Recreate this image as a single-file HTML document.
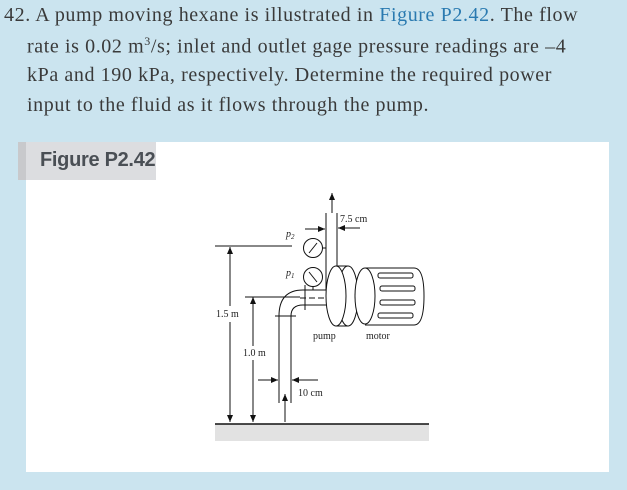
<!DOCTYPE html>
<html><head><style>
body{margin:0;width:627px;height:490px;background:#cbe4ef;overflow:hidden;position:relative;font-family:"Liberation Serif",serif}
.t{position:absolute;font-size:20px;color:#3a3a3a;white-space:nowrap;letter-spacing:0.6px}
.panel{position:absolute;left:26px;top:142px;width:583px;height:330px;background:#fff}
.fig{position:absolute;left:18px;top:142px;width:138px;height:38px;background:#dcdde0;border-left:8px solid #c8c9cc;box-sizing:border-box;font:bold 20px "Liberation Sans",sans-serif;color:#4a4f55;padding:7px 0 0 14px;letter-spacing:-0.3px}
</style></head><body>
<div class="t" style="left:4px;top:4px">42. A pump moving hexane is illustrated in <span style="color:#2a7ab0">Figure P2.42</span>. The flow</div>
<div class="t" style="left:27px;top:34px">rate is 0.02 m<sup style="font-size:12px">3</sup>/s; inlet and outlet gage pressure readings are –4</div>
<div class="t" style="left:27px;top:64px">kPa and 190 kPa, respectively. Determine the required power</div>
<div class="t" style="left:27px;top:94px">input to the fluid as it flows through the pump.</div>
<div class="panel"></div>
<div class="fig">Figure P2.42</div>
<svg style="position:absolute;left:0;top:0" width="627" height="490" font-family="Liberation Serif,serif" font-size="10" fill="#222">
<defs><marker id="a" markerWidth="8" markerHeight="8" refX="7" refY="3" orient="auto"><path d="M0,0 L7,3 L0,6z" fill="#111"/></marker></defs>
<g stroke="#111" stroke-width="1" fill="none">
<rect x="215" y="424" width="214" height="17" fill="#e2e2e2" stroke="none"/>
<line x1="215" y1="424" x2="429" y2="424" stroke-width="1.5"/>
<line x1="332" y1="213" x2="332" y2="193" marker-end="url(#a)"/>
<line x1="326" y1="213" x2="326" y2="290"/>
<line x1="337" y1="213" x2="337" y2="268"/>
<line x1="305" y1="229" x2="325" y2="229" marker-end="url(#a)"/>
<line x1="360" y1="228" x2="338" y2="228" marker-end="url(#a)"/>
<circle cx="313" cy="248" r="9.5"/><line x1="309" y1="253" x2="317" y2="243"/><line x1="322" y1="248" x2="326" y2="248"/>
<circle cx="313" cy="277" r="9.5"/><line x1="309" y1="272" x2="317" y2="282"/><line x1="313" y1="286" x2="313" y2="290"/>
<line x1="215" y1="246" x2="292" y2="246"/>
<path d="M279,316 L279,403 M291,316 L291,403"/>
<path d="M279,316 Q279,290 303,290 L336,290 M291,316 Q291,305 303,305 L336,305"/>
<line x1="300" y1="298" x2="336" y2="298" stroke-dasharray="6,3"/>
<line x1="275" y1="316" x2="296" y2="316"/><line x1="305" y1="285" x2="305" y2="310"/>
<line x1="245" y1="297" x2="300" y2="297"/>
<line x1="253" y1="346" x2="253" y2="297" marker-end="url(#a)"/><line x1="253" y1="360" x2="253" y2="422" marker-end="url(#a)"/>
<line x1="230" y1="306" x2="230" y2="247" marker-end="url(#a)"/><line x1="230" y1="322" x2="230" y2="422" marker-end="url(#a)"/>
<line x1="258" y1="380" x2="278" y2="380" marker-end="url(#a)"/><line x1="318" y1="380" x2="292" y2="380" marker-end="url(#a)"/>
<line x1="285" y1="422" x2="285" y2="394" marker-end="url(#a)"/>
<path d="M336,266 L348,266 M336,326 L348,326"/>
<ellipse cx="348" cy="296" rx="10" ry="30" fill="#fff"/>
<ellipse cx="336" cy="296" rx="10" ry="30" fill="#fff"/>
<rect x="355" y="292" width="14" height="8" rx="3" fill="#fff"/>
<path d="M365,268 L414,268 Q424,268 424,296 Q424,325 414,325 L365,325" fill="#fff"/>
<ellipse cx="365" cy="296" rx="10" ry="28" fill="#fff"/>
<rect x="378" y="273" width="35" height="5" rx="2"/><rect x="380" y="286" width="35" height="5" rx="2"/><rect x="380" y="300" width="35" height="5" rx="2"/><rect x="378" y="313" width="35" height="5" rx="2"/>
</g>
<text x="340" y="222">7.5 cm</text>
<text x="286" y="237" font-style="italic">p<tspan font-size="7" dy="2">2</tspan></text>
<text x="286" y="276" font-style="italic">p<tspan font-size="7" dy="2">1</tspan></text>
<text x="216" y="317">1.5 m</text>
<text x="243" y="356">1.0 m</text>
<text x="313" y="339">pump</text>
<text x="366" y="339">motor</text>
<text x="298" y="396">10 cm</text>
</svg>
</body></html>
